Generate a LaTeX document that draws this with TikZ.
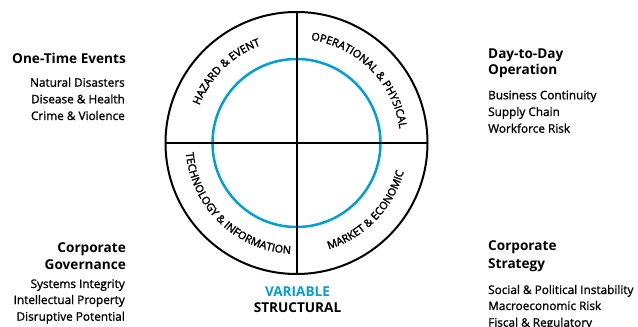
\documentclass[tikz,border=0pt]{standalone}
\usepackage{fontspec}
\setmainfont{Open Sans}
\newfontfamily\ringfam[FakeBold=2.2]{Open Sans}
\newfontfamily\itemfam[FakeBold=1.2]{Open Sans}
\usetikzlibrary{decorations.text,calc}
\definecolor{ringblue}{RGB}{0,160,214}
\newcommand{\ringfont}{\ringfam\fontsize{10.8}{12}\selectfont}
\begin{document}
\begin{tikzpicture}[x=1pt,y=1pt,
  head/.style={font=\fontsize{13.6}{15}\selectfont\bfseries, inner sep=0pt},
  item/.style={font=\itemfam\fontsize{11.8}{14}\selectfont, inner sep=0pt},
  ring/.style={line width=2pt, black},
  inner/.style={line width=2.5pt, ringblue}]
\useasboundingbox (0,0) rectangle (638,327);
\coordinate (C) at (296.5,184);
\coordinate (T) at (296.5,315);
\coordinate (B) at (296.5,53);
\coordinate (L) at (165.5,184);
\coordinate (R) at (427.5,184);
\draw[inner] (C) circle[radius=84pt];
\draw[ring] (C) circle[radius=131pt];
\draw[ring] (T) -- (B);
\draw[ring] (L) -- (R);
% ring labels
\path[decorate, decoration={text along path, text align=center,
  text={|\ringfont|HAZARD {\&} EVENT}}]
  ($(C)+(174.5:104pt)$) arc[start angle=174.5, end angle=94.5, radius=104pt];
\path[decorate, decoration={text along path, text align=center,
  text={|\ringfont|OPERATIONAL {\&} PHYSICAL}}]
  ($(C)+(95:104pt)$) arc[start angle=95, end angle=-5, radius=104pt];
\path[decorate, decoration={text along path, text align=center,
  text={|\ringfont|TECHNOLOGY {\&} INFORMATION}}]
  ($(C)+(176:111pt)$) arc[start angle=176, end angle=276, radius=111pt];
\path[decorate, decoration={text along path, text align=center,
  text={|\ringfont|MARKET {\&} ECONOMIC}}]
  ($(C)+(271:111pt)$) arc[start angle=271, end angle=361, radius=111pt];
% left top
\node[head, anchor=base east] (ote) at (126,263) {One-Time Events};
\node[item, anchor=base east] (nd) at (125,240.3) {Natural Disasters};
\node[item, anchor=base east] (dh) at (125,223.7) {Disease \& Health};
\node[item, anchor=base east] (cv) at (125,207) {Crime \& Violence};
% left bottom
\node[head, anchor=base east] (cg1) at (126,74) {Corporate};
\node[head, anchor=base east] (cg2) at (126,57) {Governance};
\node[item, anchor=base east] (si) at (125,39) {Systems Integrity};
\node[item, anchor=base east] (ip) at (125,23) {Intellectual Property};
\node[item, anchor=base east] (dp) at (125,6.3) {Disruptive Potential};
% right top
\node[head, anchor=base west] (dd1) at (488,268.7) {Day-to-Day};
\node[head, anchor=base west] (dd2) at (488,252) {Operation};
\node[item, anchor=base west] (bc) at (488,227.7) {Business Continuity};
\node[item, anchor=base west] (sc) at (488,211) {Supply Chain};
\node[item, anchor=base west] (wr) at (488,194.3) {Workforce Risk};
% right bottom
\node[head, anchor=base west] (cs1) at (488,76.3) {Corporate};
\node[head, anchor=base west] (cs2) at (488,58.7) {Strategy};
\node[item, anchor=base west] (sp) at (488,33) {Social \& Political Instability};
\node[item, anchor=base west] (mr) at (488,17) {Macroeconomic Risk};
\node[item, anchor=base west] (fr) at (488,0.3) {Fiscal \& Regulatory};
% bottom centre
\node[head, anchor=base, text=ringblue] (var) at (297.5,30.3) {VARIABLE};
\node[head, anchor=base] (str) at (297.5,14.3) {STRUCTURAL};
\end{tikzpicture}
\end{document}
